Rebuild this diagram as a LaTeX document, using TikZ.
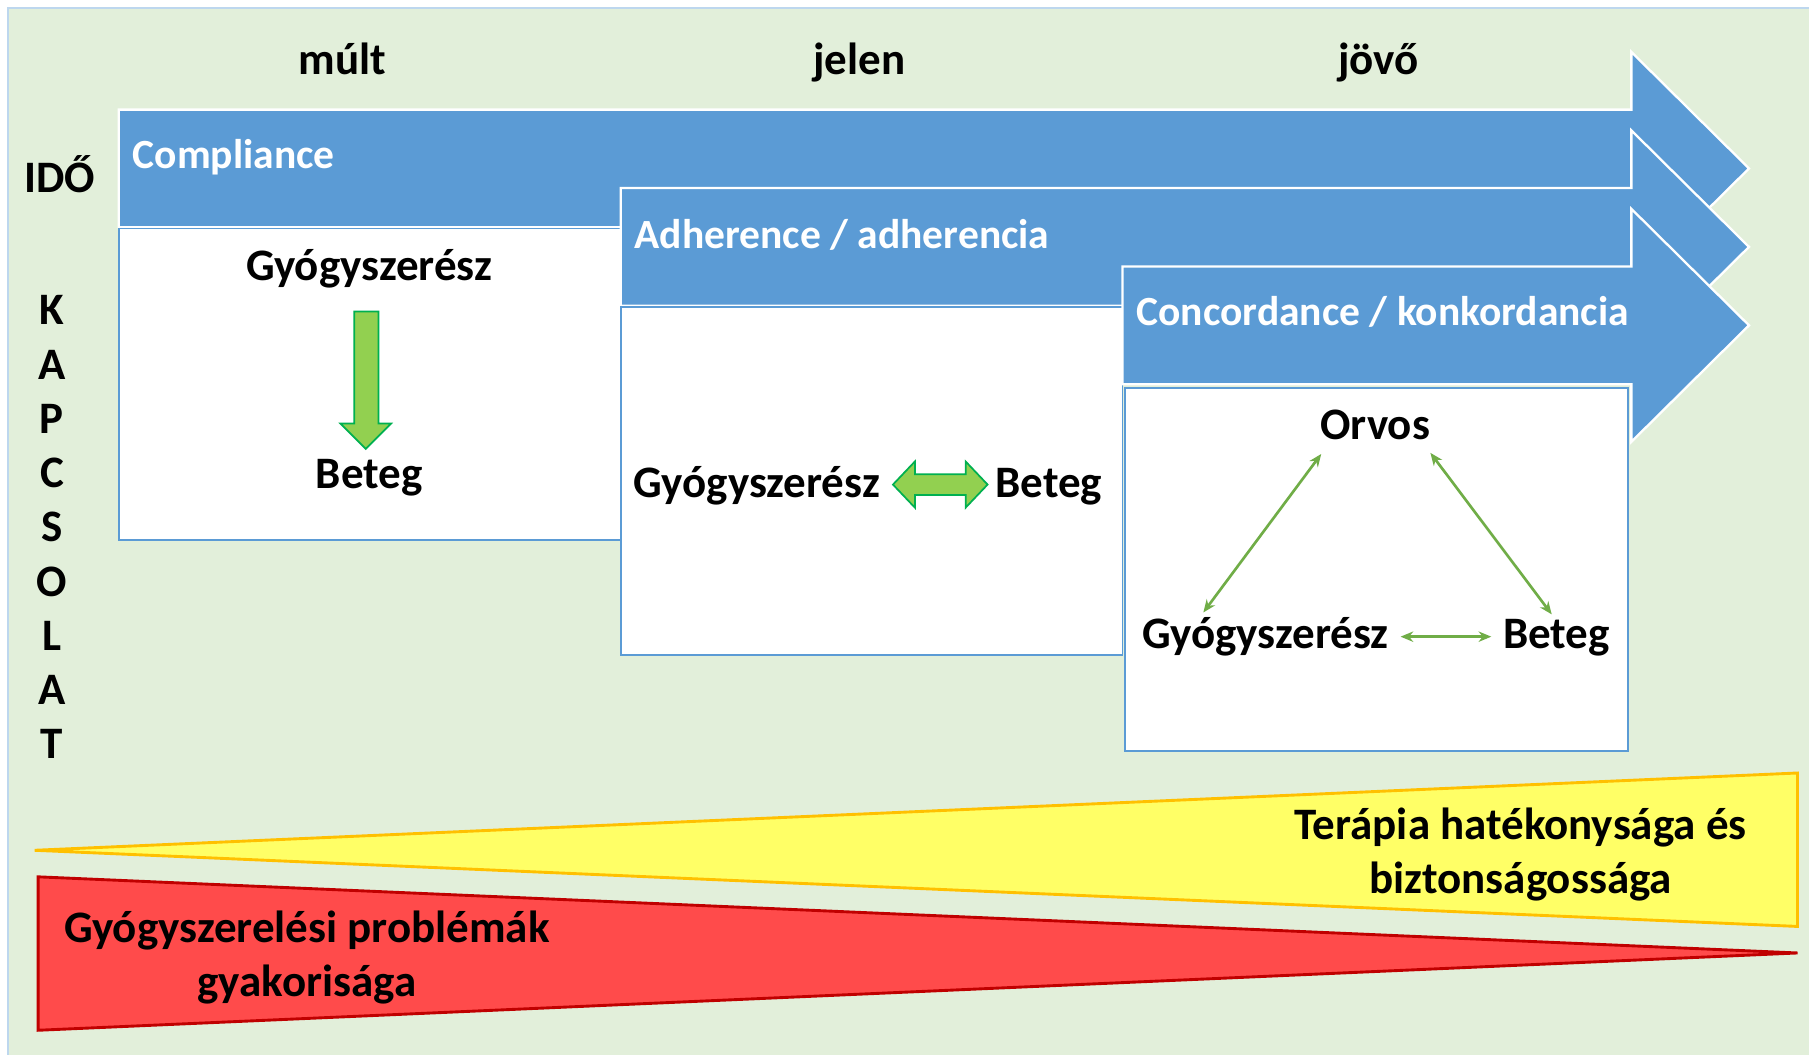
\documentclass[tikz,border=0pt]{standalone}
\usepackage{fontspec}
\setmainfont{Carlito}
\usepackage{tikz}
\usetikzlibrary{arrows.meta}

\definecolor{bggreen}{HTML}{E2EFDA}
\definecolor{bgline}{HTML}{BDD7EE}
\definecolor{arrowblue}{HTML}{5B9BD5}
\definecolor{lightgreen}{HTML}{92D050}
\definecolor{darkgreen}{HTML}{00B050}
\definecolor{linegreen}{HTML}{70AD47}
\definecolor{triyellow}{HTML}{FFFF66}
\definecolor{triorange}{HTML}{FFC000}
\definecolor{trired}{HTML}{FF4B4B}
\definecolor{darkred}{HTML}{C00000}

\begin{document}
\begin{tikzpicture}[x=1pt,y=-1pt,
  lbl/.style={font=\fontsize{39}{47}\selectfont\bfseries, inner sep=2pt, anchor=base},
  wlbl/.style={font=\fontsize{36}{43}\selectfont\bfseries, text=white, inner sep=0pt, anchor=base west},
  timearrow/.style={fill=arrowblue, draw=white, line width=2pt, line join=miter},
  wbox/.style={fill=white, draw=arrowblue, line width=1.5pt},
  blockarr/.style={fill=lightgreen, draw=darkgreen, line width=1.5pt, line join=miter},
  thinarr/.style={draw=linegreen, line width=2.3pt, >={Stealth[length=11pt,width=9pt]}, <->}]
\useasboundingbox (0,0) rectangle (1568,914);
\fill[bggreen] (7,7) rectangle (1568,914);
\draw[bgline, line width=1.5pt] (1568,7) -- (7,7) -- (7,914);

% time axis
\node[lbl] (mult) at (297,65) {múlt};
\node[lbl] (jelen) at (745,65) {jelen};
\node[lbl] (jovo) at (1195,65) {jövő};
\node[lbl] (ido) at (52,167) {IDŐ};
\foreach \l [count=\i] in {K,A,P,C,S,O,L,A,T}
  \node[lbl, anchor=center] (kap\i) at (45,{269+47*(\i-1)}) {\l};

% compliance
\draw[timearrow] (103,95) -- (1414,95) -- (1414,45) -- (1516,146) -- (1414,247) -- (1414,197) -- (103,197) -- cycle;
\node[wlbl] (compl) at (115,146) {Compliance};
\draw[wbox] (103,198) rectangle (538,468);
\node[lbl] (gy1) at (320,243) {Gyógyszerész};
\node[lbl] (bt1) at (320,423) {Beteg};
\draw[blockarr] (307,270) -- (328,270) -- (328,367) -- (339,367) -- (317,389) -- (295,367) -- (307,367) -- cycle;

% adherence
\draw[timearrow] (538,163) -- (1414,163) -- (1414,113) -- (1516,214) -- (1414,315) -- (1414,265) -- (538,265) -- cycle;
\node[wlbl] (adher) at (550,215) {Adherence / adherencia};
\draw[wbox] (538,266) rectangle (973,568);
\node[lbl] (gy2) at (656,431) {Gyógyszerész};
\node[lbl] (bt2) at (909,431) {Beteg};
\draw[blockarr] (774,420) -- (793,400) -- (793,411) -- (837,411) -- (837,400) -- (856,420) -- (837,440) -- (837,429) -- (793,429) -- (793,440) -- cycle;

% concordance
\draw[timearrow] (973,231) -- (1414,231) -- (1414,181) -- (1516,282) -- (1414,383) -- (1414,333) -- (973,333) -- cycle;
\node[wlbl] (concord) at (985,282) {Concordance / konkordancia};
\draw[wbox] (975,336) rectangle (1411,651);
\node[lbl] (orvos) at (1192,381) {Orvos};
\node[lbl] (gy3) at (1097,562) {Gyógyszerész};
\node[lbl] (bt3) at (1349,562) {Beteg};
\draw[thinarr] ([shift={(3pt,-10pt)}]orvos.south west) -- ([shift={(-54pt,2pt)}]gy3.north);
\draw[thinarr] ([shift={(-2pt,-9pt)}]orvos.south east) -- ([shift={(-4pt,2pt)}]bt3.north);
\draw[thinarr, shorten <=8pt, shorten >=8pt] (gy3.east) -- (gy3.east -| bt3.west);

% wedges
\draw[fill=triyellow, draw=triorange, line width=2.5pt] (30,737) -- (1558,670) -- (1558,803) -- cycle;
\draw[fill=trired, draw=darkred, line width=2.5pt] (33,760) -- (1558,826) -- (33,893) -- cycle;
\node[lbl, anchor=center, align=center] (terapia) at (1318,741) {Terápia hatékonysága és\\biztonságossága};
\node[lbl, anchor=center, align=center] (problema) at (266,830) {Gyógyszerelési problémák\\gyakorisága};
\end{tikzpicture}
\end{document}
